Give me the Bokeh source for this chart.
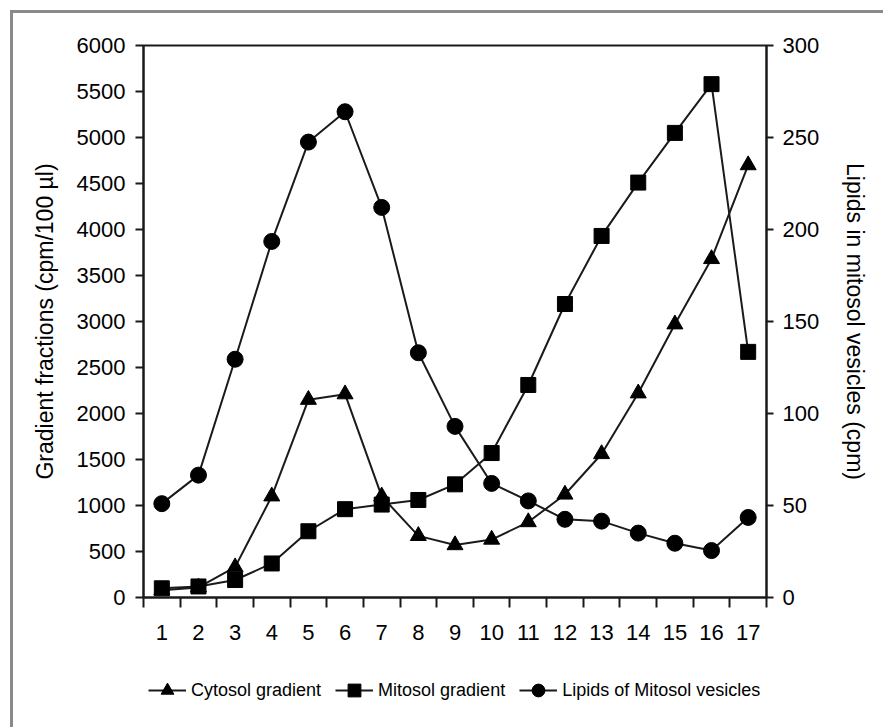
from bokeh.plotting import figure
from bokeh.layouts import column
from bokeh.models import Range1d, LinearAxis, FixedTicker, Legend, LegendItem
from bokeh.embed import file_html
from bokeh.resources import INLINE

fractions = [1, 2, 3, 4, 5, 6, 7, 8, 9, 10, 11, 12, 13, 14, 15, 16, 17]
cytosol_gradient = [80, 110, 330, 1100, 2150, 2210, 1100, 670, 570, 630, 820,
                    1120, 1560, 2220, 2970, 3680, 4700]
mitosol_gradient = [100, 120, 190, 370, 720, 960, 1010, 1060, 1230, 1570, 2310,
                    3190, 3930, 4510, 5050, 5580, 2670]
lipids_mitosol = [51, 66.5, 129.5, 193.5, 247.5, 264, 212, 133, 93, 62, 52.5,
                  42.5, 41.5, 35, 29.5, 25.5, 43.5]

left_ticks = [0, 500, 1000, 1500, 2000, 2500, 3000, 3500, 4000, 4500, 5000,
              5500, 6000]
right_ticks = [0, 50, 100, 150, 200, 250, 300]
x_boundaries = [0.5, 1.5, 2.5, 3.5, 4.5, 5.5, 6.5, 7.5, 8.5, 9.5, 10.5, 11.5,
                12.5, 13.5, 14.5, 15.5, 16.5, 17.5]
series_names = ["Cytosol gradient", "Mitosol gradient",
                "Lipids of Mitosol vesicles"]
series_values = [cytosol_gradient, mitosol_gradient, lipids_mitosol]

FONT = "Liberation Sans"
INK = "#1a1a1a"

p = figure(width=870, height=644, output_backend="svg", toolbar_location=None,
           x_range=Range1d(0.5, 17.5), y_range=Range1d(0, 6000),
           min_border_left=130, min_border_right=117, min_border_top=32,
           min_border_bottom=60)
p.grid.visible = False
p.outline_line_color = INK
p.outline_line_width = 2
p.background_fill_color = "white"
p.border_fill_color = "white"

p.extra_y_ranges = {"lipids": Range1d(0, 300)}

# x axis
xa = p.xaxis[0]
xa.ticker = FixedTicker(ticks=fractions, minor_ticks=x_boundaries)
xa.major_tick_out = 0
xa.major_tick_in = 0
xa.minor_tick_out = 10
xa.minor_tick_in = 0
xa.minor_tick_line_color = INK
xa.minor_tick_line_width = 2
xa.axis_line_color = INK
xa.axis_line_width = 2
xa.major_label_standoff = 17
xa.major_label_text_font = FONT
xa.major_label_text_font_size = "22px"
xa.major_label_text_color = "black"

# left axis
ya = p.yaxis[0]
ya.ticker = FixedTicker(ticks=left_ticks)
ya.major_tick_out = 8
ya.major_tick_in = 0
ya.minor_tick_out = 0
ya.minor_tick_in = 0
ya.major_tick_line_color = INK
ya.major_tick_line_width = 2
ya.axis_line_color = INK
ya.axis_line_width = 2
ya.major_label_standoff = 10
ya.major_label_text_font = FONT
ya.major_label_text_font_size = "22px"
ya.major_label_text_color = "black"
ya.axis_label = "Gradient fractions (cpm/100 µl)"
ya.axis_label_text_font = FONT
ya.axis_label_text_font_size = "23px"
ya.axis_label_text_font_style = "normal"
ya.axis_label_standoff = 16
ya.axis_label_text_color = "black"

# right axis
ra = LinearAxis(y_range_name="lipids", ticker=FixedTicker(ticks=right_ticks))
ra.major_tick_out = 7
ra.major_tick_in = 0
ra.minor_tick_out = 0
ra.minor_tick_in = 0
ra.major_tick_line_color = INK
ra.major_tick_line_width = 2
ra.axis_line_color = INK
ra.axis_line_width = 2
ra.major_label_standoff = 9
ra.major_label_text_font = FONT
ra.major_label_text_font_size = "22px"
ra.major_label_text_color = "black"
ra.axis_label = "Lipids in mitosol vesicles (cpm)"
ra.axis_label_text_font = FONT
ra.axis_label_text_font_size = "23px"
ra.axis_label_text_font_style = "normal"
ra.axis_label_standoff = 20
ra.axis_label_text_color = "black"
p.add_layout(ra, "right")

# series
p.line(fractions, cytosol_gradient, line_color=INK, line_width=2)
p.scatter(fractions, cytosol_gradient, marker="triangle", size=16,
          fill_color="black", line_color="black")
p.line(fractions, mitosol_gradient, line_color=INK, line_width=2)
p.scatter(fractions, mitosol_gradient, marker="square", size=15,
          fill_color="black", line_color="black")
p.line(fractions, lipids_mitosol, line_color=INK, line_width=2,
       y_range_name="lipids")
p.scatter(fractions, lipids_mitosol, marker="circle", size=16,
          fill_color="black", line_color="black", y_range_name="lipids")

# legend strip below the chart; its glyphs repeat the series but lie outside
# its view, so only the legend entries show.
lg = figure(width=870, height=70, output_backend="svg", toolbar_location=None,
            x_range=Range1d(-1, 0), y_range=Range1d(-1, 0),
            x_axis_location=None, y_axis_location=None,
            min_border_left=0, min_border_right=0, min_border_top=0,
            min_border_bottom=0)
lg.grid.visible = False
lg.outline_line_color = None
lg.border_fill_color = "white"
lg.background_fill_color = "white"

items = []
for name, vals, marker, msize in zip(series_names, series_values,
                                     ["triangle", "square", "circle"],
                                     [16, 15, 16]):
    lr = lg.line(fractions, vals, line_color=INK, line_width=2)
    mr = lg.scatter(fractions, vals, marker=marker, size=msize,
                    fill_color="black", line_color="black")
    items.append(LegendItem(label=name, renderers=[lr, mr]))

legend = Legend(items=items, orientation="horizontal", location=(5, 21),
                border_line_color=None, background_fill_alpha=0, padding=0,
                margin=0, spacing=14, glyph_width=38, glyph_height=32,
                label_standoff=5, label_text_font=FONT,
                label_text_font_size="18px", label_text_color="black")
lg.add_layout(legend, "center")

layout = column(p, lg, spacing=0,
                styles={"border-left": "3px solid #8a8a8a",
                        "border-top": "3px solid #8a8a8a",
                        "margin-left": "10px", "margin-top": "10px"})

open("out.html", "w").write(file_html(layout, INLINE))
